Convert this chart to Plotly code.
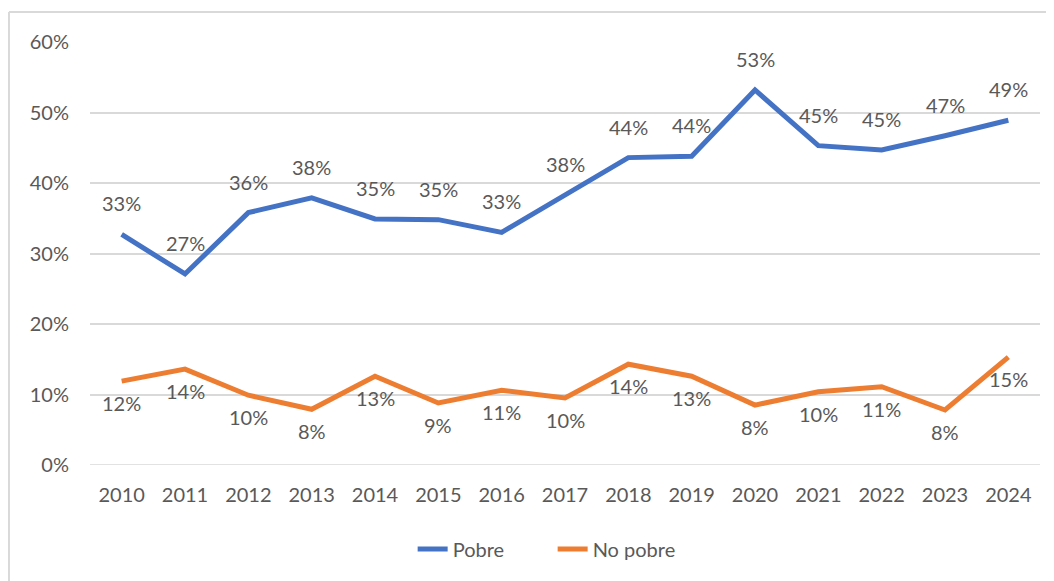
import plotly.graph_objects as go

years = list(range(2010, 2025))
pobre = [0.327, 0.271, 0.358, 0.379, 0.349, 0.348, 0.330, 0.383, 0.436, 0.438, 0.532, 0.453, 0.447, 0.467, 0.489]
no_pobre = [0.119, 0.136, 0.099, 0.079, 0.126, 0.088, 0.106, 0.095, 0.143, 0.126, 0.085, 0.104, 0.111, 0.078, 0.153]
y_ticks = [0, 0.1, 0.2, 0.3, 0.4, 0.5, 0.6]

BLUE = "#4472C4"
ORANGE = "#ED7D31"
TXT = "#595959"
FONT = "Lato, Open Sans, sans-serif"
FS = 20

fig = go.Figure()
fig.add_trace(go.Scatter(x=years, y=pobre, name="Pobre", mode="lines",
                         line=dict(color=BLUE, width=5)))
fig.add_trace(go.Scatter(x=years, y=no_pobre, name="No pobre", mode="lines",
                         line=dict(color=ORANGE, width=5)))

annots = []
for x, v in zip(years, pobre):
    annots.append(dict(x=x, y=v, xref="x", yref="y", text=f"{round(v*100):.0f}%",
                       showarrow=False, yshift=31,
                       font=dict(size=FS, color=TXT, family=FONT)))
for x, v in zip(years, no_pobre):
    annots.append(dict(x=x, y=v, xref="x", yref="y", text=f"{round(v*100):.0f}%",
                       showarrow=False, yshift=-22,
                       font=dict(size=FS, color=TXT, family=FONT)))

fig.update_layout(
    width=1046, height=573,
    margin=dict(l=82, r=14, t=34, b=116),
    paper_bgcolor="white", plot_bgcolor="white",
    font=dict(family=FONT, size=FS, color=TXT),
    annotations=annots,
    showlegend=True,
    legend=dict(orientation="h", x=0.487, xanchor="center", y=-0.1986, yanchor="middle",
                entrywidth=95, entrywidthmode="pixels",
                font=dict(size=FS, color=TXT, family=FONT)),
    xaxis=dict(range=[2009.5, 2024.5], tickvals=years, ticktext=[str(y) for y in years],
               showgrid=False, showline=False, zeroline=False, ticks="",
               ticklabelstandoff=16, fixedrange=True),
    yaxis=dict(range=[0, 0.6], tickvals=y_ticks, tickformat=".0%",
               showgrid=True, gridcolor="#D9D9D9", gridwidth=1.5,
               zeroline=False, showline=False, ticks="", ticklabelstandoff=20),
    shapes=[
        dict(type="line", xref="paper", yref="paper", x0=-0.0853, x1=-0.0853, y0=-0.3, y1=1.0709,
             line=dict(color="#D9D9D9", width=2)),
        dict(type="line", xref="paper", yref="paper", x0=-0.0853, x1=1.02, y0=1.0709, y1=1.0709,
             line=dict(color="#D9D9D9", width=2)),
    ],
)
fig.add_shape(type="line", xref="paper", yref="y", x0=0, x1=1, y0=0, y1=0,
              line=dict(color="#D9D9D9", width=1.5), layer="below")

fig.write_html("out.html")
